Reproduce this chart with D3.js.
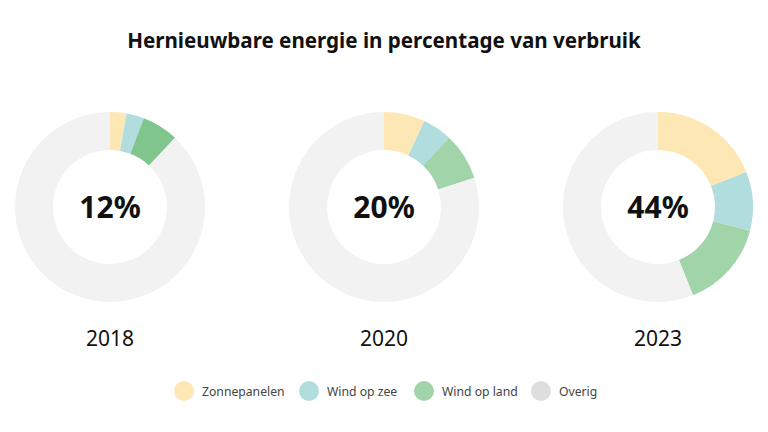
<!DOCTYPE html>
<html><head><meta charset="utf-8">
<script src="https://cdn.jsdelivr.net/npm/d3@7"></script>
<style>body{margin:0;background:#fff;} svg{display:block;}</style>
</head><body>
<svg id="c" width="768" height="432"></svg>
<script>
const years = ["2018", "2020", "2023"];
const totals = ["12%", "20%", "44%"];
const categories = ["Zonnepanelen", "Wind op zee", "Wind op land", "Overig"];
const zonnepanelen = [2.8, 7, 19];
const windOpZee = [3, 5, 10];
const windOpLand = [6.2, 8, 15];
const overig = [88, 80, 56];
const colors = ["#fde7b5", "#b1dddf", "#a2d4a9", "#f2f2f2"];
const legendColors = ["#fde7b5", "#b1dddf", "#a2d4a9", "#dedede"];
const highlightColor = "#80c58b";

const svg = d3.select("#c");
const font = "'Noto Sans', 'Open Sans', sans-serif";

svg.append("text").attr("x", 384).attr("y", 48).attr("text-anchor", "middle")
  .attr("font-family", font).attr("font-weight", 700).attr("font-size", 20.6)
  .attr("fill", "#111").text("Hernieuwbare energie in percentage van verbruik");

const xPos = d3.scalePoint().domain(years).range([110, 658]);
const pie = d3.pie().sort(null).value(d => d.v);
const arc = d3.arc().innerRadius(57).outerRadius(95);

years.forEach((y, i) => {
  const data = [zonnepanelen[i], windOpZee[i], windOpLand[i], overig[i]].map((v, k) => ({v, k}));
  const g = svg.append("g").attr("transform", `translate(${xPos(y)},207)`);
  g.selectAll("path").data(pie(data)).join("path")
    .attr("d", arc)
    .attr("fill", d => (i === 0 && d.data.k === 2) ? highlightColor : colors[d.data.k]);
  g.append("text").attr("y", 11).attr("text-anchor", "middle")
    .attr("font-family", font).attr("font-weight", 700).attr("font-size", 30)
    .attr("fill", "#111").text(totals[i]);
  svg.append("text").attr("x", xPos(y)).attr("y", 346).attr("text-anchor", "middle")
    .attr("font-family", font).attr("font-size", 21).attr("fill", "#111").text(y);
});

const legX = [184, 309, 424, 541];
const lg = svg.append("g");
categories.forEach((c, i) => {
  lg.append("circle").attr("cx", legX[i]).attr("cy", 391).attr("r", 10).attr("fill", legendColors[i]);
  lg.append("text").attr("x", legX[i] + 18).attr("y", 395.5)
    .attr("font-family", font).attr("font-size", 12.2).attr("fill", "#444").text(c);
});
</script>
</body></html>
